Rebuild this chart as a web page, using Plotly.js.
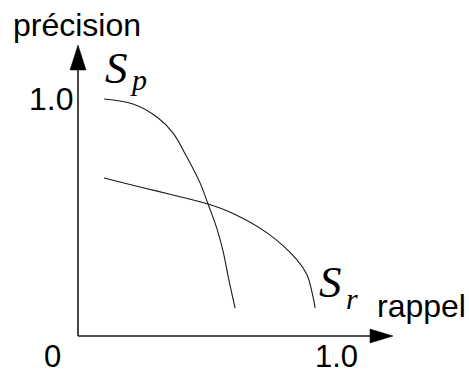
<!DOCTYPE html>
<html>
<head>
<meta charset="utf-8">
<script src="https://cdn.plot.ly/plotly-3.0.1.min.js"></script>
<style>
  html, body { margin: 0; padding: 0; background: #fff; }
  #chart { width: 469px; height: 374px; }
</style>
</head>
<body>
<div id="chart"></div>
<script>
// ---- data ----
const recallSp    = [0.101, 0.213, 0.306, 0.368, 0.422, 0.473, 0.504, 0.539, 0.562, 0.585, 0.609];
const precisionSp = [1.000, 0.979, 0.924, 0.857, 0.755, 0.646, 0.557, 0.451, 0.359, 0.236, 0.118];
const recallSr    = [0.101, 0.240, 0.368, 0.504, 0.597, 0.733, 0.849, 0.888, 0.911, 0.919];
const precisionSr = [0.667, 0.629, 0.595, 0.557, 0.519, 0.435, 0.321, 0.257, 0.165, 0.118];
const xTickLabels = ['0', '1.0'];
const yTickLabels = ['1.0'];
const xTitle = 'rappel';
const yTitle = 'précision';
const seriesNames = ['S', 'S'];
const seriesSubs = ['p', 'r'];

// ---- layout helpers (pixel -> data) ----
const W = 469, H = 374;
const OX = 78, OY = 336, SX = 258, SY = 237;
const px2x = p => (p - OX) / SX;
const py2y = p => (OY - p) / SY;

const lineColor = '#1a1a1a';
const sans = 'Liberation Sans, Arial, Helvetica, sans-serif';
const serifIt = 'Liberation Serif, Times New Roman, serif';

const traces = [
  { x: recallSp, y: precisionSp, mode: 'lines', line: { color: lineColor, width: 1.1, shape: 'spline', smoothing: 1 }, hoverinfo: 'skip' },
  { x: recallSr, y: precisionSr, mode: 'lines', line: { color: lineColor, width: 1.1, shape: 'spline', smoothing: 1 }, hoverinfo: 'skip' }
];

const shapes = [
  // x axis line + arrow
  { type: 'line', x0: 0, y0: 0, x1: px2x(372), y1: 0, line: { color: lineColor, width: 1.6 } },
  { type: 'path', path: `M ${px2x(370)} ${py2y(329)} L ${px2x(393)} ${py2y(336)} L ${px2x(370)} ${py2y(343)} Z`, fillcolor: '#000', line: { color: '#000', width: 0.5 } },
  // y axis line + arrow
  { type: 'line', x0: 0, y0: 0, x1: 0, y1: py2y(68), line: { color: lineColor, width: 1.6 } },
  { type: 'path', path: `M ${px2x(70)} ${py2y(70)} L ${px2x(78)} ${py2y(45)} L ${px2x(86)} ${py2y(70)} Z`, fillcolor: '#000', line: { color: '#000', width: 0.5 } }
];

function txt(text, xpx, ypx, size, family, xanchor) {
  return { text: text, x: px2x(xpx), y: py2y(ypx), xref: 'x', yref: 'y', showarrow: false,
           xanchor: xanchor || 'center', yanchor: 'middle', font: { size: size, family: family, color: '#000' } };
}

const annotations = [
  txt(yTitle, 77, 25, 32, sans),
  txt(xTitle, 421, 306, 32, sans),
  txt(yTickLabels[0], 51, 99, 32, sans),
  txt(xTickLabels[0], 52, 356, 31, sans),
  txt(xTickLabels[1], 336, 356, 31, sans),
  txt('<i>' + seriesNames[0] + '</i>', 103, 68, 45, serifIt, 'left'),
  txt('<i>' + seriesSubs[0] + '</i>', 128, 79, 30, serifIt, 'left'),
  txt('<i>' + seriesNames[1] + '</i>', 317, 282, 45, serifIt, 'left'),
  txt('<i>' + seriesSubs[1] + '</i>', 344, 298, 30, serifIt, 'left')
];

const layout = {
  width: W, height: H,
  margin: { l: 0, r: 0, t: 0, b: 0, pad: 0 },
  paper_bgcolor: '#fff', plot_bgcolor: '#fff',
  showlegend: false,
  xaxis: { range: [px2x(0), px2x(W)], visible: false, fixedrange: true },
  yaxis: { range: [py2y(H), py2y(0)], visible: false, fixedrange: true },
  shapes: shapes,
  annotations: annotations
};

Plotly.newPlot('chart', traces, layout, { staticPlot: true, displayModeBar: false });
</script>
</body>
</html>
